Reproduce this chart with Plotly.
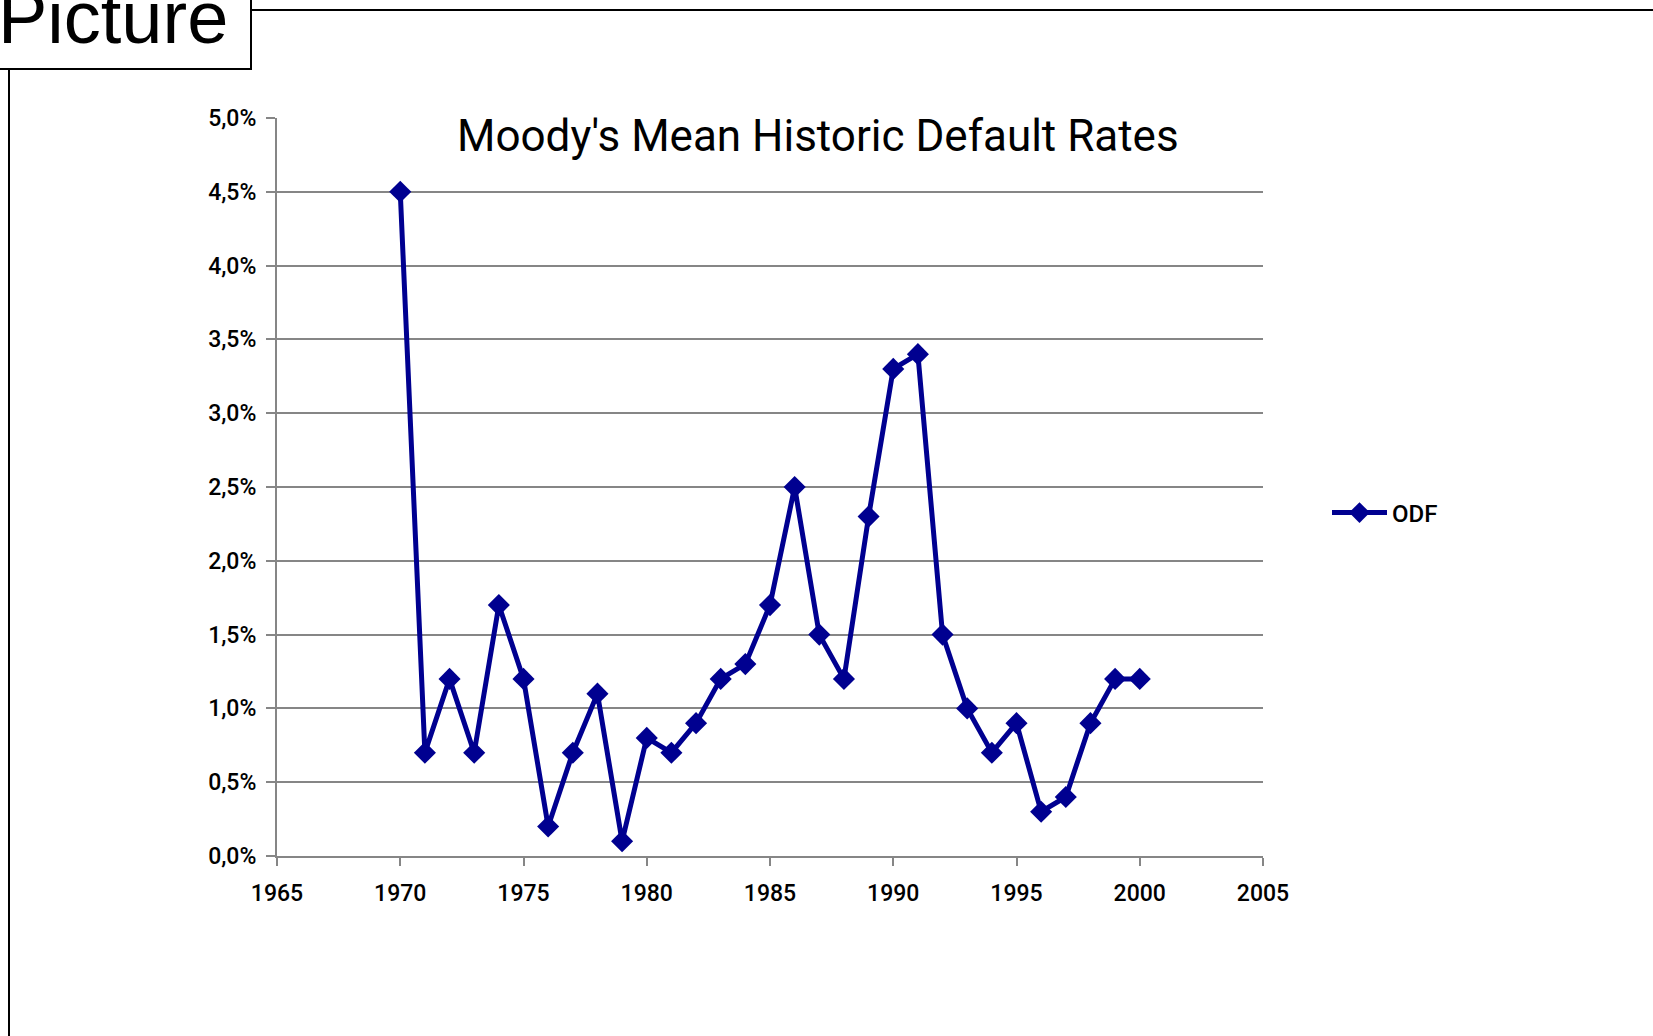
import plotly.graph_objects as go

# ---- data ----
years = [1970, 1971, 1972, 1973, 1974, 1975, 1976, 1977, 1978, 1979,
         1980, 1981, 1982, 1983, 1984, 1985, 1986, 1987, 1988, 1989,
         1990, 1991, 1992, 1993, 1994, 1995, 1996, 1997, 1998, 1999, 2000]
odf = [4.5, 0.7, 1.2, 0.7, 1.7, 1.2, 0.2, 0.7, 1.1, 0.1,
       0.8, 0.7, 0.9, 1.2, 1.3, 1.7, 2.5, 1.5, 1.2, 2.3,
       3.3, 3.4, 1.5, 1.0, 0.7, 0.9, 0.3, 0.4, 0.9, 1.2, 1.2]
series_name = "ODF"
y_tickvals = [0, 0.5, 1.0, 1.5, 2.0, 2.5, 3.0, 3.5, 4.0, 4.5, 5.0]
y_ticktext = ["0,0%", "0,5%", "1,0%", "1,5%", "2,0%", "2,5%",
              "3,0%", "3,5%", "4,0%", "4,5%", "5,0%"]
x_tickvals = [1965, 1970, 1975, 1980, 1985, 1990, 1995, 2000, 2005]
title_text = "Moody's Mean Historic Default Rates"
frame_label = "Picture"

# ---- layout geometry (pixels) ----
W, H = 1653, 1036
L, R, T, B = 277, 1263, 118, 856
PW, PH = R - L, B - T


def px(x):
    return (x - L) / PW


def py(y):
    return (B - y) / PH


NAVY = "#000090"
GRID = "#868686"
TICKFONT = dict(family="Roboto, sans-serif", size=23, color="black", weight=500)

fig = go.Figure()
fig.add_trace(go.Scatter(
    x=years, y=odf, name=series_name, mode="lines+markers",
    line=dict(color=NAVY, width=5),
    marker=dict(symbol="diamond", size=17, color=NAVY),
))

fig.update_layout(
    width=W, height=H, autosize=False,
    margin=dict(l=L, r=W - R, t=T, b=H - B, pad=0),
    paper_bgcolor="white", plot_bgcolor="white",
    showlegend=True,
    legend=dict(x=px(1327), y=py(513), xanchor="left", yanchor="middle",
                font=dict(family="Roboto, sans-serif", size=24, color="black", weight=500),
                bgcolor="rgba(0,0,0,0)", itemwidth=55),
    xaxis=dict(range=[1965, 2005], tickvals=x_tickvals, showgrid=False,
               showline=True, linecolor=GRID, linewidth=2,
               ticks="outside", ticklen=8, tickwidth=2, tickcolor=GRID,
               tickfont=TICKFONT, ticklabelstandoff=7, zeroline=False),
    yaxis=dict(range=[0, 5], tickvals=y_tickvals, ticktext=y_ticktext,
               showgrid=True, gridcolor=GRID, gridwidth=2,
               showline=True, linecolor=GRID, linewidth=2,
               ticks="outside", ticklen=9, tickwidth=2, tickcolor=GRID,
               tickfont=TICKFONT, ticklabelstandoff=5, zeroline=False),
)

# title
fig.add_annotation(
    text=title_text, xref="paper", yref="paper",
    x=px(818), y=py(136), xanchor="center", yanchor="middle",
    showarrow=False,
    font=dict(family="Roboto, sans-serif", size=44, color="black"),
)

# frame + "Picture" label box
fig.add_shape(type="rect", xref="paper", yref="paper",
              x0=px(9), y0=py(10), x1=px(W + 20), y1=py(H + 20),
              line=dict(color="black", width=2), fillcolor="rgba(0,0,0,0)",
              layer="above")
fig.add_shape(type="rect", xref="paper", yref="paper",
              x0=px(-5), y0=py(-5), x1=px(251), y1=py(69),
              line=dict(color="black", width=2), fillcolor="white",
              layer="above")
fig.add_annotation(
    text=frame_label, xref="paper", yref="paper",
    x=px(-4), y=py(61), xanchor="left", yanchor="bottom",
    showarrow=False,
    font=dict(family="Liberation Sans, Arial, sans-serif", size=74, color="black"),
)

fig.write_html("out.html")
